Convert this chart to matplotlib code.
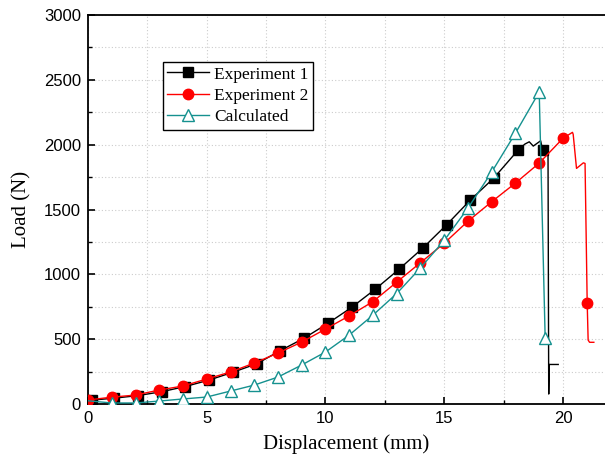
import matplotlib
matplotlib.use("Agg")
import matplotlib.pyplot as plt
from matplotlib.ticker import MultipleLocator

# Experiment 1: measured points (marked) followed by the failure tail
exp1_x = [0.15, 1.1, 2.1, 3.1, 4.1, 5.1, 6.1, 7.1, 8.1, 9.1, 10.1, 11.1, 12.1,
          13.1, 14.1, 15.1, 16.1, 17.1, 18.1,
          18.4, 18.58, 18.75, 19.06, 19.14, 19.37, 19.4, 19.42, 19.8]
exp1_y = [30, 45, 65, 95, 135, 185, 245, 310, 412, 508, 622, 745, 886,
          1040, 1203, 1382, 1573, 1745, 1956,
          2005, 2022, 1989, 2030, 1962, 1958, 77, 305, 305]
exp1_marks = list(range(19)) + [23]

# Experiment 2: measured points (marked) followed by the failure tail
exp2_x = [0, 1, 2, 3, 4, 5, 6, 7, 8, 9, 10, 11, 12, 13, 14, 15, 16, 17, 18, 19, 20,
          20.4, 20.43, 20.57, 20.86, 20.93, 21.02, 21.06, 21.12, 21.3]
exp2_y = [31, 53, 69, 108, 139, 193, 247, 316, 393, 478, 578, 680, 790, 940,
          1090, 1240, 1410, 1560, 1704, 1858, 2049,
          2095, 2080, 1817, 1860, 1855, 781, 493, 476, 476]
exp2_marks = list(range(21)) + [26]

# Calculated response
calc_x = [0, 1, 2, 3, 4, 5, 6, 7, 8, 9, 10, 11, 12, 13, 14, 15, 16, 17, 18, 19, 19.25]
calc_y = [25, 8, 8, 23, 39, 54, 100, 146, 208, 301, 401, 532, 686, 852, 1050,
          1262, 1511, 1789, 2089, 2406, 510]
calc_marks = list(range(1, 21))

serif = "Liberation Serif"
sans = "Liberation Sans"

fig = plt.figure(figsize=(6.05, 4.61), dpi=100)
ax = fig.add_axes([0.1455, 0.1236, 0.8545, 0.8439])

ax.plot(exp1_x, exp1_y, color="black", lw=1.0, marker="s", ms=6.5,
        markevery=exp1_marks, label="Experiment 1", zorder=3)
ax.plot(exp2_x, exp2_y, color="#ff0000", lw=1.0, marker="o", ms=7.5,
        markevery=exp2_marks, label="Experiment 2", zorder=4)
ax.plot(calc_x, calc_y, color="#15918f", lw=1.0, marker="^", ms=8.5,
        markerfacecolor="white", markeredgecolor="#15918f", mew=1.0,
        markevery=calc_marks, label="Calculated", zorder=5)

ax.set_xlim(0, 21.77)
ax.set_ylim(0, 3000)
ax.xaxis.set_major_locator(MultipleLocator(5))
ax.xaxis.set_minor_locator(MultipleLocator(2.5))
ax.yaxis.set_major_locator(MultipleLocator(500))
ax.yaxis.set_minor_locator(MultipleLocator(250))

ax.grid(which="both", color="#cccccc", linestyle=(0, (1, 2)), linewidth=0.8)
ax.set_axisbelow(True)

ax.spines["right"].set_visible(False)
for s in ("left", "bottom", "top"):
    ax.spines[s].set_linewidth(1.3)

ax.tick_params(which="major", direction="in", length=5, width=1.2,
               labelsize=12, pad=5)
ax.tick_params(which="minor", direction="in", length=3, width=1.0)
for lab in ax.get_xticklabels() + ax.get_yticklabels():
    lab.set_fontfamily(sans)

ax.set_xlabel("Displacement (mm)", fontsize=15, fontfamily=serif, labelpad=6)
ax.set_ylabel("Load (N)", fontsize=15, fontfamily=serif, labelpad=9)

leg = ax.legend(loc="upper left", bbox_to_anchor=(0.145, 0.879), borderaxespad=0,
                prop={"family": serif, "size": 12.5}, frameon=True, fancybox=False,
                edgecolor="black", framealpha=1, handlelength=2.4,
                handletextpad=0.3, labelspacing=0.3, borderpad=0.25)
leg.get_frame().set_linewidth(1.0)

fig.savefig("out.png", dpi=100)
